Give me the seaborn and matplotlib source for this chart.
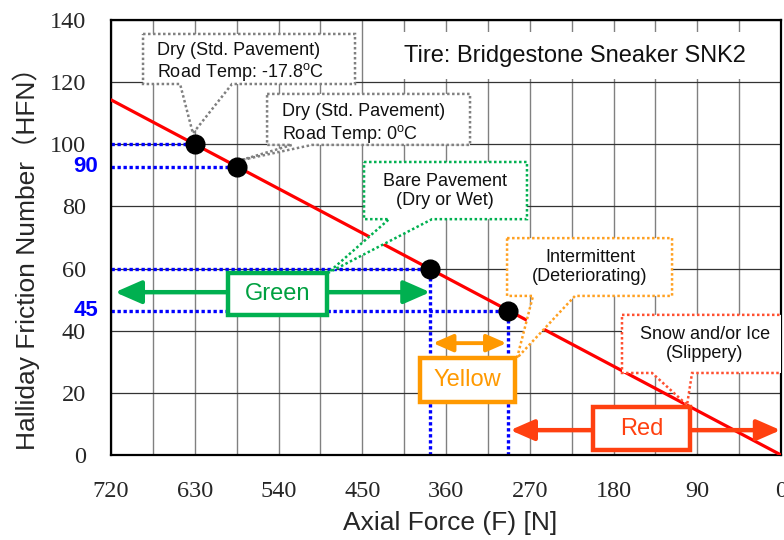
import matplotlib
matplotlib.use("Agg")
import matplotlib.pyplot as plt
import seaborn as sns
from matplotlib.patches import Polygon, Rectangle, FancyArrowPatch
from matplotlib.ticker import MultipleLocator
import matplotlib.transforms as mtransforms

# data
force_line = [720, 0]
hfn_line = [114.3, 0]
force_pts = [630, 585, 377, 293]
hfn_pts = [100, 92.8, 59.8, 46.5]
hfn_marks = ["", "90", "", "45"]
x_ticks = [720, 630, 540, 450, 360, 270, 180, 90, 0]
y_ticks = [0, 20, 40, 60, 80, 100, 120, 140]

sns.set_style("white")
plt.rcParams["font.family"] = ["Liberation Sans", "Noto Sans CJK JP", "DejaVu Sans"]
plt.rcParams["mathtext.fontset"] = "custom"
plt.rcParams["mathtext.rm"] = "Liberation Sans"

fig = plt.figure(figsize=(7.84, 5.40), dpi=100)
ax = fig.add_axes([0.1416, 0.1574, 0.8546, 0.8056])

sns.lineplot(x=force_line, y=hfn_line, ax=ax, color="#FF0000", lw=2.3, zorder=3)

# blue dotted guide lines
blue_ls = (0, (1, 0.8))
for f, h in zip(force_pts, hfn_pts):
    ax.plot([720, f], [h, h], color="#0000FF", lw=2.4, ls=blue_ls, zorder=2.5,
            solid_capstyle="butt", dash_capstyle="butt")
for f, h in zip(force_pts[2:], hfn_pts[2:]):
    ax.plot([f, f], [0, h], color="#0000FF", lw=2.4, ls=blue_ls, zorder=2.5,
            dash_capstyle="butt")

trans = mtransforms.blended_transform_factory(ax.transAxes, ax.transData)
for h, lab in zip(hfn_pts, hfn_marks):
    if lab:
        ax.text(-0.019, h, lab, transform=trans, ha="right", va="center",
                color="#0000FF", fontsize=16, fontweight="bold", clip_on=False)

# callouts
callouts = [
    ("Dry (Std. Pavement)\nRoad Temp: -17.8$^{\\mathrm{o}}$C", (670.5, 126.3), "left", "#808080",
     [(685.6, 135.5), (457.8, 135.5), (457.8, 119.4), (590, 119.4), (632, 103.5), (645.8, 119.4), (685.6, 119.4)]),
    ("Dry (Std. Pavement)\nRoad Temp: 0$^{\\mathrm{o}}$C", (536.2, 106.5), "left", "#808080",
     [(552.3, 116.2), (334.2, 116.2), (334.2, 99.8), (504, 99.8), (580.3, 94.9), (525.5, 99.8), (552.3, 99.8)]),
    ("Bare Pavement\n(Dry or Wet)", (361.1, 85.1), "center", "#00B050",
     [(448.1, 94.3), (273, 94.3), (273, 75.9), (375, 75.9), (486.8, 58.6), (421.2, 75.9), (448.1, 75.9)]),
    ("Intermittent\n(Deteriorating)", (205.2, 60.5), "center", "#FFA020",
     [(294.4, 69.8), (117.1, 69.8), (117.1, 51.2), (221.4, 51.2), (283.7, 31.2), (266.5, 51.2), (294.4, 51.2)]),
    ("Snow and/or Ice\n(Slippery)", (81.7, 35.7), "center", "#FF5030",
     [(170.9, 45.1), (-3, 45.1), (-3, 26.4), (95.6, 26.4), (101, 16.1), (138.6, 26.4), (170.9, 26.4)]),
]
for txt, (tx, ty), ha, col, poly in callouts:
    ax.add_patch(Polygon(poly, closed=True, facecolor="white", edgecolor=col,
                         lw=1.8, ls=(0, (1, 1)), zorder=4))
    ax.text(tx, ty, txt, ha=ha, va="center", fontsize=13, color="#111111",
            linespacing=1.15, zorder=4.5)

# title box
ax.add_patch(Rectangle((0, 121), 425.5, 15, facecolor="white", edgecolor="none", zorder=2.2))
ax.text(221.4, 128.3, "Tire: Bridgestone Sneaker SNK2", ha="center", va="center",
        fontsize=17, color="#111111", zorder=4.5)

# category arrows and boxes
zones = [
    ("Green", "#00B050", "#00A040", (715.7, 377), 52.4, 3.2, (487.9, 45.1, 106.4, 13.5), (541, 51.8), 20),
    ("Yellow", "#FF9900", "#FF9900", (374, 295), 36.0, 2.8, (285.8, 17.1, 102.1, 14.1), (336.8, 24.1), 15),
    ("Red", "#FF4010", "#FF4010", (291, 0.5), 8.0, 3.2, (97.8, 1.6, 104.2, 13.8), (149.9, 8.5), 18),
]
for lab, col, tcol, (x0, x1), yy, lw, (rx, ry, rw, rh), (tx, ty), ms in zones:
    ax.add_patch(FancyArrowPatch((x1, yy), (x0, yy), arrowstyle="<|-|>,head_length=0.8,head_width=0.35",
                                 mutation_scale=ms, color=col, lw=lw, shrinkA=0, shrinkB=0,
                                 zorder=4.6))
    ax.add_patch(Rectangle((rx, ry), rw, rh, facecolor="white", edgecolor=col, lw=3.2, zorder=5))
    ax.text(tx, ty, lab, ha="center", va="center", fontsize=17, color=tcol, zorder=5.5)

sns.scatterplot(x=force_pts, y=hfn_pts, ax=ax, color="black", s=180, edgecolor="black",
                zorder=6, legend=False)

ax.set_xlim(720, 0)
ax.set_ylim(0, 140)
ax.set_xticks(x_ticks)
ax.set_yticks(y_ticks)
ax.xaxis.set_minor_locator(MultipleLocator(45))
ax.grid(which="both", axis="x", color="#808080", lw=1.0)
ax.grid(which="major", axis="y", color="#333333", lw=0.9)
ax.set_axisbelow(True)
ax.tick_params(which="both", length=0)
ax.tick_params(axis="x", pad=19)
ax.tick_params(axis="y", pad=18)
for lab in ax.get_xticklabels() + ax.get_yticklabels():
    lab.set_fontfamily("Liberation Serif")
    lab.set_fontsize(17.5)
for sp in ax.spines.values():
    sp.set_color("black")
    sp.set_linewidth(1.6)
ax.set_xlabel("")
ax.set_ylabel("")

fig.text(0.574, 0.031, "Axial Force (F) [N]", ha="center", va="center", fontsize=19)
fig.text(0.033, 0.533, "Halliday Friction Number\uff08HFN\uff09", ha="center", va="center",
         rotation=90, fontsize=19)

fig.savefig("out.png", dpi=100)
